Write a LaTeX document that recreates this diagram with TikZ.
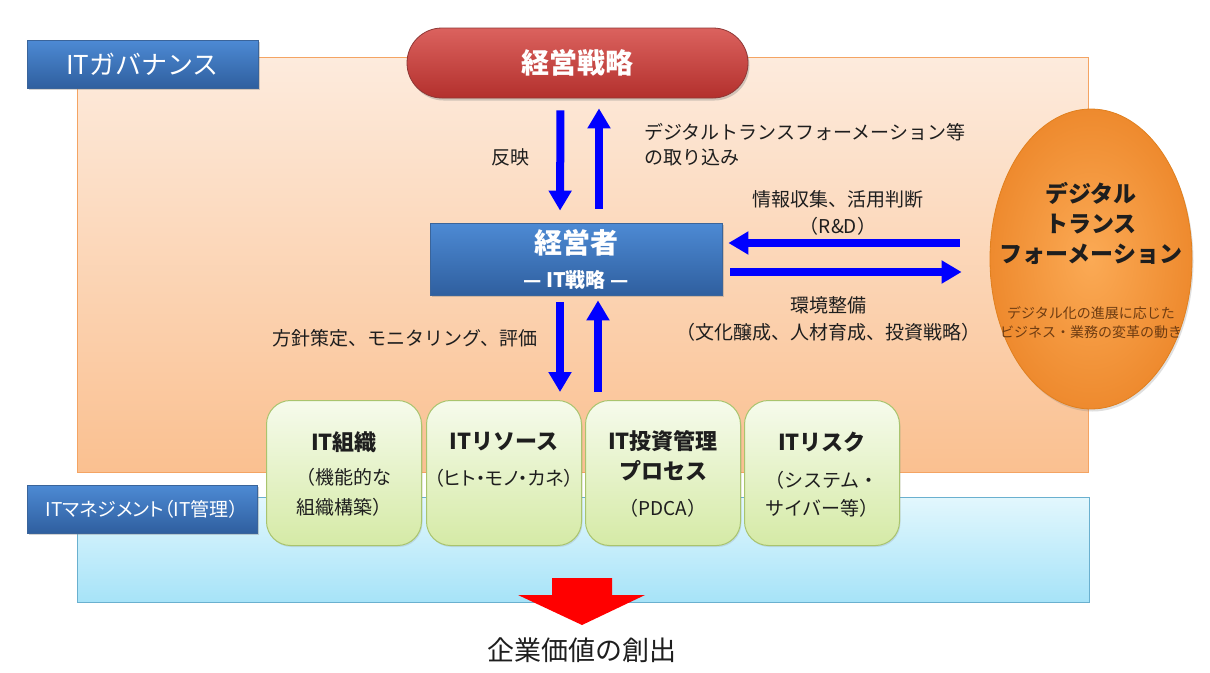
\documentclass[tikz,border=0pt]{standalone}
\usepackage{fontspec}
\setmainfont{Noto Sans CJK JP}
\usetikzlibrary{shapes.geometric,arrows.meta,shadows}
\definecolor{govtop}{HTML}{FDEBDD}
\definecolor{govbot}{HTML}{FAC090}
\definecolor{govline}{HTML}{F4A463}
\definecolor{mgtop}{HTML}{E2F7FD}
\definecolor{mgbot}{HTML}{A6E3F8}
\definecolor{mgline}{HTML}{6AB0CF}
\definecolor{bltop}{HTML}{4D8AD4}
\definecolor{blbot}{HTML}{2F5F9F}
\definecolor{blline}{HTML}{3A649A}
\definecolor{rdtop}{HTML}{DB625E}
\definecolor{rdbot}{HTML}{B3302D}
\definecolor{rdline}{HTML}{8E3735}
\definecolor{grtop}{HTML}{F6FBEC}
\definecolor{grbot}{HTML}{D5EAA6}
\definecolor{grline}{HTML}{A9C46E}
\definecolor{orin}{HTML}{FBAA55}
\definecolor{orout}{HTML}{EE8A2E}
\definecolor{orline}{HTML}{E0801F}
\definecolor{subtxt}{HTML}{6E3C12}
\definecolor{txt}{HTML}{1E1E1E}
\definecolor{pureblue}{HTML}{0000FF}
\definecolor{purered}{HTML}{FF0000}
\newcommand{\fz}[1]{\fontsize{#1}{#1}\selectfont}
\newcommand{\palt}{\addfontfeatures{RawFeature=+palt}}
\begin{document}
\begin{tikzpicture}[x=1pt,y=-1pt,
  area/.style={draw, line width=0.8pt, inner sep=0pt, anchor=north west},
  bluebox/.style={draw=blline, line width=0.8pt, top color=bltop, bottom color=blbot,
     inner sep=0pt, text=white, drop shadow={opacity=0.35, shadow xshift=1.5pt, shadow yshift=-2pt}},
  greenbox/.style={draw=grline, line width=1pt, top color=grtop, bottom color=grbot,
     rounded corners=24pt, minimum width=155pt, minimum height=145pt, anchor=north, inner sep=0pt,
     drop shadow={opacity=0.2, shadow xshift=1pt, shadow yshift=-1.5pt}},
  ann/.style={text=txt, inner sep=0pt, align=center},
  gtitle/.style={text=txt, inner sep=0pt, font=\fz{22}\bfseries},
  gsub/.style={text=txt, inner sep=0pt, font=\fz{19}},
  barrow/.style={draw=pureblue, line width=8pt, -{Triangle[width=22pt,length=20pt]}},
]
\useasboundingbox (0,0) rectangle (1210,672);
\fill[white] (0,0) rectangle (1210,672);

% areas
\node[area, draw=govline, top color=govtop, bottom color=govbot,
      minimum width=1011pt, minimum height=415pt] (gov) at (77,57) {};
\node[area, draw=mgline, top color=mgtop, bottom color=mgbot,
      minimum width=1012pt, minimum height=105pt] (mgmt) at (77,497) {};

% labels
\node[bluebox, minimum width=231pt, minimum height=48pt, font=\fz{26}] (govlbl) at (142.5,64) {ITガバナンス};
\node[bluebox, minimum width=230pt, minimum height=48pt, font=\fz{19}\palt] (mglbl) at (142,509) {ITマネジメント（IT管理）};

% management strategy pill
\node[draw=rdline, line width=0.8pt, top color=rdtop, bottom color=rdbot, rounded corners=35pt,
      minimum width=341pt, minimum height=70pt, inner sep=0pt, text=white, font=\fz{28}\bfseries,
      drop shadow={opacity=0.35, shadow xshift=1.5pt, shadow yshift=-2.5pt}] (senryaku) at (577.5,63) {経営戦略};

% executive box
\node[bluebox, minimum width=292pt, minimum height=72pt] (keieisha) at (576,259) {};
\node[text=white, inner sep=0pt, font=\fz{28}\bfseries] (keit) at (576,243) {経営者};
\node[text=white, inner sep=0pt, font=\fz{20}\bfseries] (keis) at (576,280) {— IT戦略 —};

% DX ellipse
\node[ellipse, draw=orline, line width=0.8pt, inner color=orin, outer color=orout,
      minimum width=202pt, minimum height=300pt, inner sep=0pt,
      drop shadow={opacity=0.25, shadow xshift=1.5pt, shadow yshift=-2.5pt}] (dx) at (1091,259) {};
\node[ann, font=\fz{23}\bfseries, align=center] (dxt) at (1091,223)
  {デジタル\\[7pt]トランス\\[7pt]フォーメーション};
\node[ann, font=\fz{14}, text=subtxt, align=center] (dxs) at (1091,323)
  {デジタル化の進展に応じた\\[5pt]ビジネス・業務の変革の動き};

% green boxes
\node[greenbox] (g1) at (344,400) {};
\node[greenbox] (g2) at (504,400) {};
\node[greenbox] (g3) at (663,400) {};
\node[greenbox] (g4) at (822,400) {};

\node[gtitle] at (344,442) {IT組織};
\node[gsub] at (344,477) {（機能的な};
\node[gsub] at (344,507) {組織構築）};

\node[gtitle] at (504,442) {ITリソース};
\node[gsub, font=\fz{19}\palt] at (504,478) {（ヒト・モノ・カネ）};

\node[gtitle] at (663,441) {IT投資管理};
\node[gtitle] at (663,471) {プロセス};
\node[gsub] at (663,508) {（PDCA）};

\node[gtitle] at (822,442) {ITリスク};
\node[gsub] at (822,480) {（システム・};
\node[gsub] at (822,508) {サイバー等）};

% helper coordinates
\coordinate (kin) at ([yshift=16pt]keieisha.east);
\coordinate (kout) at ([yshift=-13pt]keieisha.east);

% blue arrows
\draw[barrow, shorten <=12pt, shorten >=12pt]
  ([xshift=-17pt]senryaku.south) -- ([xshift=-16pt]keieisha.north);
\draw[barrow, shorten <=14pt, shorten >=10pt]
  ([xshift=23pt]keieisha.north) -- ([xshift=21.5pt]senryaku.south);
\draw[barrow, shorten <=7pt, shorten >=8pt]
  ([xshift=-16pt]keieisha.south) -- ([xshift=-16pt]keieisha.south |- g2.north);
\draw[barrow, shorten <=8pt, shorten >=5pt]
  ([xshift=22pt]keieisha.south |- g3.north) -- ([xshift=22pt]keieisha.south);
\draw[barrow, shorten <=30pt, shorten >=6pt]
  (dx.west |- kin) -- (kin);
\draw[barrow, shorten <=8pt, shorten >=28pt]
  (kout) -- (dx.west |- kout);

% annotations
\node[ann, font=\fz{19}] (lbl1) at (510,157) {反映};
\node[ann, font=\fz{19}, anchor=west, align=left] (lbl2) at (644,145)
  {デジタルトランスフォーメーション等\\[6pt]の取り込み};
\node[ann, font=\fz{19}] (lbl3) at (838,213) {情報収集、活用判断\\[8pt]（R\&D）};
\node[ann, font=\fz{19}] (lbl4) at (828,319) {環境整備\\[8pt]（文化醸成、人材育成、投資戦略）};
\node[ann, font=\fz{19}] (lbl5) at (405,338) {方針策定、モニタリング、評価};

% value creation arrow
\fill[purered] (552,578) -- (612,578) -- (612,595) -- (645,595) -- (582,625) -- (518,595) -- (552,595) -- cycle;
\node[ann, font=\fz{27}] (value) at (582,650) {企業価値の創出};
\end{tikzpicture}
\end{document}
